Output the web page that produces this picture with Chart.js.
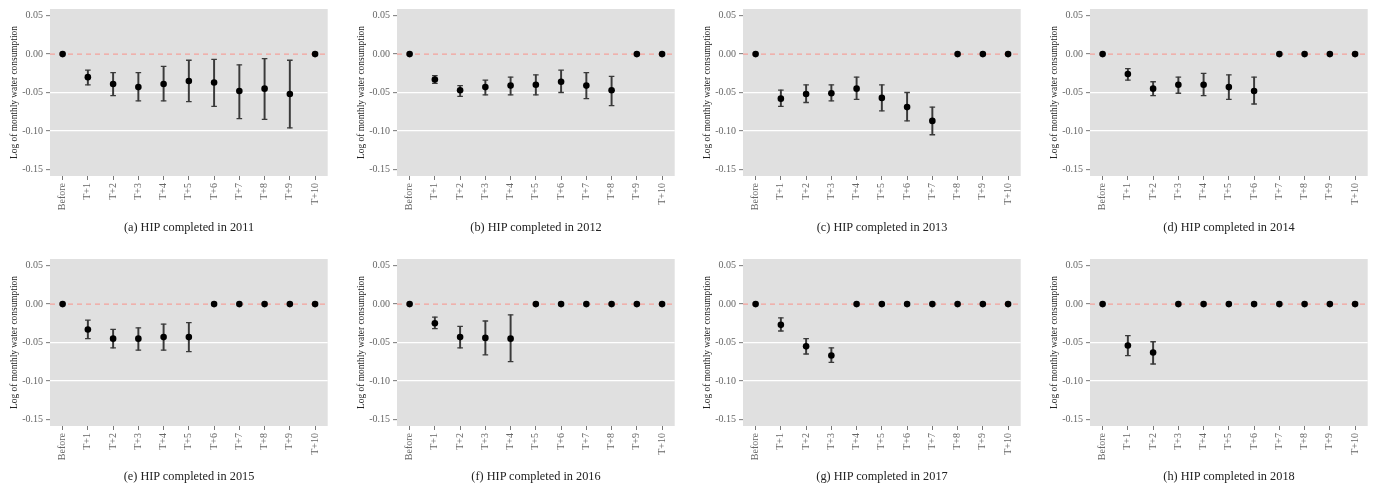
<!DOCTYPE html>
<html>
<head>
<meta charset="utf-8">
<script src="https://cdn.jsdelivr.net/npm/chart.js@4.4.1/dist/chart.umd.min.js"></script>
<style>
body{margin:0;background:#fff;width:1375px;height:488px;overflow:hidden;position:relative;font-family:'Liberation Serif',serif}
.panel{position:absolute}
.cap{position:absolute;width:278px;text-align:center;font-size:12.3px;color:#222;line-height:14px;white-space:nowrap}
</style>
</head>
<body>
<script>
const periods = ["Before","T+1","T+2","T+3","T+4","T+5","T+6","T+7","T+8","T+9","T+10"];
const yTicks = [0.05, 0, -0.05, -0.10, -0.15];
const years = [2011, 2012, 2013, 2014, 2015, 2016, 2017, 2018];
const letters = ["a","b","c","d","e","f","g","h"];

// point estimates and 95% CI per completion year
const est2011 = [0, -0.030, -0.039, -0.043, -0.039, -0.035, -0.037, -0.048, -0.045, -0.052, 0];
const lo2011  = [null, -0.040, -0.054, -0.061, -0.061, -0.062, -0.068, -0.084, -0.085, -0.096, null];
const hi2011  = [null, -0.021, -0.024, -0.024, -0.016, -0.008, -0.007, -0.014, -0.006, -0.008, null];

const est2012 = [0, -0.033, -0.047, -0.043, -0.041, -0.040, -0.036, -0.041, -0.047, 0, 0];
const lo2012  = [null, -0.038, -0.055, -0.053, -0.053, -0.053, -0.050, -0.058, -0.067, null, null];
const hi2012  = [null, -0.028, -0.041, -0.034, -0.030, -0.027, -0.021, -0.024, -0.029, null, null];

const est2013 = [0, -0.058, -0.052, -0.051, -0.045, -0.057, -0.069, -0.087, 0, 0, 0];
const lo2013  = [null, -0.068, -0.063, -0.061, -0.059, -0.074, -0.087, -0.105, null, null, null];
const hi2013  = [null, -0.047, -0.040, -0.040, -0.030, -0.040, -0.050, -0.069, null, null, null];

const est2014 = [0, -0.026, -0.045, -0.040, -0.040, -0.043, -0.048, 0, 0, 0, 0];
const lo2014  = [null, -0.034, -0.054, -0.051, -0.054, -0.059, -0.065, null, null, null, null];
const hi2014  = [null, -0.019, -0.036, -0.030, -0.025, -0.027, -0.030, null, null, null, null];

const est2015 = [0, -0.033, -0.045, -0.045, -0.043, -0.043, 0, 0, 0, 0, 0];
const lo2015  = [null, -0.045, -0.057, -0.060, -0.060, -0.062, null, null, null, null, null];
const hi2015  = [null, -0.021, -0.033, -0.031, -0.026, -0.024, null, null, null, null, null];

const est2016 = [0, -0.025, -0.043, -0.044, -0.045, 0, 0, 0, 0, 0, 0];
const lo2016  = [null, -0.032, -0.057, -0.066, -0.075, null, null, null, null, null, null];
const hi2016  = [null, -0.017, -0.029, -0.022, -0.014, null, null, null, null, null, null];

const est2017 = [0, -0.027, -0.055, -0.067, 0, 0, 0, 0, 0, 0, 0];
const lo2017  = [null, -0.035, -0.065, -0.076, null, null, null, null, null, null, null];
const hi2017  = [null, -0.018, -0.045, -0.057, null, null, null, null, null, null, null];

const est2018 = [0, -0.054, -0.063, 0, 0, 0, 0, 0, 0, 0, 0];
const lo2018  = [null, -0.067, -0.078, null, null, null, null, null, null, null, null];
const hi2018  = [null, -0.041, -0.049, null, null, null, null, null, null, null, null];

const series = [
  [est2011, lo2011, hi2011], [est2012, lo2012, hi2012], [est2013, lo2013, hi2013], [est2014, lo2014, hi2014],
  [est2015, lo2015, hi2015], [est2016, lo2016, hi2016], [est2017, lo2017, hi2017], [est2018, lo2018, hi2018]
];

const plotLefts = [50, 397, 743, 1090];
const plotTops = [9, 259];
const capTops = [220, 469];
const font = {family: "'Liberation Serif', serif", size: 10};

const plotBg = {
  id: 'plotBg',
  beforeDraw(chart) {
    const {ctx, chartArea: a} = chart;
    ctx.save();
    ctx.fillStyle = '#e0e0e0';
    ctx.fillRect(a.left, a.top, a.right - a.left, a.bottom - a.top);
    ctx.restore();
  },
  beforeDatasetsDraw(chart) {
    const {ctx, chartArea: a, scales} = chart;
    const py = scales.y.getPixelForValue(0);
    ctx.save();
    ctx.strokeStyle = '#f4a19b';
    ctx.lineWidth = 1.2;
    ctx.setLineDash([5, 4]);
    ctx.beginPath();
    ctx.moveTo(a.left, py);
    ctx.lineTo(a.right, py);
    ctx.stroke();
    ctx.restore();
  }
};

series.forEach(([est, lo, hi], i) => {
  const col = i % 4, row = Math.floor(i / 4);
  const div = document.createElement('div');
  div.className = 'panel';
  div.style.left = (plotLefts[col] - 50) + 'px';
  div.style.top = (plotTops[row] - 9) + 'px';
  const cv = document.createElement('canvas');
  cv.width = 333; cv.height = 226;
  div.appendChild(cv);
  document.body.appendChild(div);

  const cap = document.createElement('div');
  cap.className = 'cap';
  cap.style.left = plotLefts[col] + 'px';
  cap.style.top = capTops[row] + 'px';
  cap.textContent = '(' + letters[i] + ') HIP completed in ' + years[i];
  document.body.appendChild(cap);

  new Chart(cv.getContext('2d'), {
    type: 'bar',
    data: {
      labels: periods,
      datasets: [
        {type: 'line', data: est, showLine: false, pointRadius: 3.3, pointBackgroundColor: '#000', pointBorderColor: '#000', pointBorderWidth: 0, order: 0},
        {type: 'line', data: lo, showLine: false, pointStyle: 'line', pointRadius: 2.8, pointBorderColor: '#3a3a3a', pointBorderWidth: 1.3, order: 1},
        {type: 'line', data: hi, showLine: false, pointStyle: 'line', pointRadius: 2.8, pointBorderColor: '#3a3a3a', pointBorderWidth: 1.3, order: 1},
        {type: 'bar', data: lo.map((v, k) => v === null ? null : [v, hi[k]]), backgroundColor: '#3a3a3a', borderWidth: 0, barThickness: 1.3, order: 2}
      ]
    },
    options: {
      responsive: false,
      animation: false,
      devicePixelRatio: 1,
      layout: {padding: {top: 9, left: 0, right: 2, bottom: 0}},
      plugins: {legend: {display: false}, tooltip: {enabled: false}},
      scales: {
        x: {
          offset: true,
          grid: {offset: false, drawOnChartArea: false, tickLength: 4, tickColor: '#777', tickWidth: 1},
          border: {display: false},
          ticks: {font: font, color: '#666', minRotation: 90, maxRotation: 90, padding: 3, autoSkip: false},
          afterFit(s) { s.height = 50; }
        },
        y: {
          min: -0.1587,
          max: 0.0587,
          afterBuildTicks(s) { s.ticks = yTicks.map(v => ({value: v})); },
          grid: {
            color: c => (c.tick && (Math.abs(c.tick.value + 0.05) < 1e-9 || Math.abs(c.tick.value + 0.1) < 1e-9)) ? '#ffffff' : 'rgba(0,0,0,0)',
            lineWidth: 1.3, tickLength: 4, tickColor: '#777', tickWidth: 1
          },
          border: {display: false},
          ticks: {font: font, color: '#666', padding: 3, callback: v => v.toFixed(2)},
          title: {display: true, text: 'Log of monthly water consumption', font: {family: "'Liberation Serif', serif", size: 9.4}, color: '#222', padding: {top: 9, bottom: 0}},
          afterFit(s) { s.width = 50; }
        }
      }
    },
    plugins: [plotBg]
  });
});
</script>
</body>
</html>
